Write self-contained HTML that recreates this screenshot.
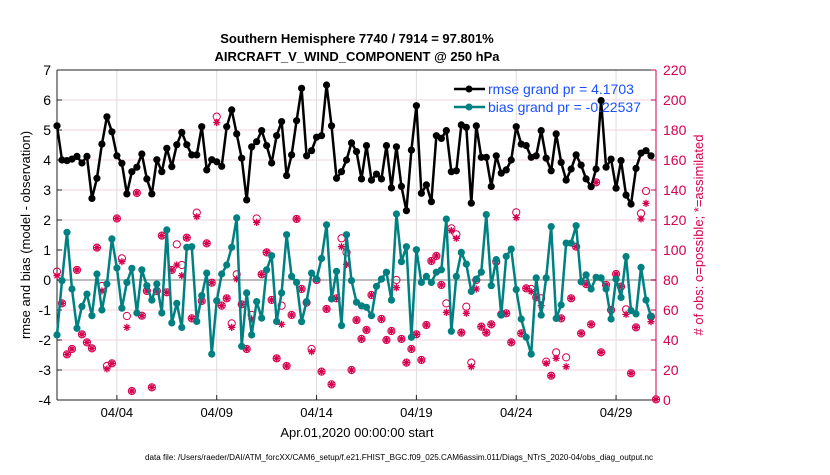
<!DOCTYPE html>
<html><head><meta charset="utf-8"><style>
body{margin:0;background:#fff;}
svg text{font-family:"Liberation Sans",sans-serif;}
</style></head><body>
<svg id="chart" width="830" height="470" viewBox="0 0 830 470" xmlns="http://www.w3.org/2000/svg">
<rect width="830" height="470" fill="#fff"/>
<text x="357" y="43" text-anchor="middle" font-size="13" font-weight="bold">Southern Hemisphere 7740 / 7914 = 97.801%</text>
<text x="357" y="61" text-anchor="middle" font-size="13" font-weight="bold">AIRCRAFT_V_WIND_COMPONENT @ 250 hPa</text>
<g id="grid"></g>
<g id="axes"></g>
<g id="marks"></g>
<g id="legend">
 <line x1="454" y1="89" x2="485" y2="89" stroke="#000" stroke-width="2.5"/>
 <circle cx="469" cy="89" r="3.5" fill="#000"/>
 <text x="488" y="94" font-size="14" fill="#1a4fff">rmse grand pr = 4.1703</text>
 <line x1="454" y1="107" x2="485" y2="107" stroke="#008080" stroke-width="2.5"/>
 <circle cx="469" cy="107" r="3.5" fill="#008080"/>
 <text x="488" y="112" font-size="14" fill="#1a4fff">bias grand pr = -0.22537</text>
</g>
<text x="357" y="437" text-anchor="middle" font-size="13">Apr.01,2020 00:00:00 start</text>
<text transform="translate(30,235) rotate(-90)" text-anchor="middle" font-size="13">rmse and bias (model - observation)</text>
<text transform="translate(703,235) rotate(-90)" text-anchor="middle" font-size="13" fill="#d6004f"># of obs: o=possible; *=assimilated</text>
<text x="145" y="460" font-size="8" textLength="508" lengthAdjust="spacingAndGlyphs">data file: /Users/raeder/DAI/ATM_forcXX/CAM6_setup/f.e21.FHIST_BGC.f09_025.CAM6assim.011/Diags_NTrS_2020-04/obs_diag_output.nc</text>
</svg>
<script>
const rmse=[5.14,4.0,3.98,4.03,4.12,3.9,4.12,2.72,3.39,4.53,5.44,4.94,4.14,3.89,2.87,3.61,3.76,4.2,3.37,2.87,4.01,3.61,4.39,3.78,4.51,4.92,4.51,4.17,4.17,5.11,3.67,4.01,3.94,3.79,5.11,5.67,4.87,4.06,2.67,4.44,4.61,4.98,4.48,3.9,4.81,5.28,3.48,4.17,5.31,6.39,4.14,4.31,4.76,4.81,6.5,5.14,3.39,3.61,4.0,4.57,4.28,3.37,4.48,3.33,3.53,3.37,4.48,3.07,4.44,3.12,2.31,4.33,5.81,2.89,3.17,2.61,4.81,4.72,4.98,3.61,3.64,5.17,5.09,2.56,5.14,4.09,4.09,3.12,4.14,3.56,3.67,4.0,5.11,4.53,4.48,4.09,4.14,4.98,4.06,3.64,4.87,3.92,3.33,3.7,4.17,3.83,3.37,3.11,3.7,5.98,3.76,4.03,3.06,3.98,2.83,2.53,3.72,4.23,4.31,4.14];
const bias=[-1.83,-0.02,1.59,-0.3,-1.61,-0.88,-0.47,-1.19,0.2,-1.0,-0.13,1.37,0.4,-0.94,-0.08,0.39,-1.1,0.34,-0.19,-0.67,-0.13,-1.1,1.67,-1.43,-0.78,-1.58,1.09,1.11,-1.38,-0.52,0.23,-2.47,-0.69,0.2,0.5,1.09,2.07,-2.21,-0.43,-1.83,-0.72,-1.27,0.34,0.81,-1.38,-0.43,1.51,0.12,-0.08,-1.39,-0.72,0.23,0.03,0.72,1.84,-0.63,0.29,-1.52,1.51,-0.02,-0.74,-0.86,-0.91,-1.19,-0.21,0.03,0.26,-0.67,2.2,0.61,1.11,-1.91,1.01,-0.08,0.12,-0.08,0.26,0.34,2.03,-1.71,0.12,0.92,0.53,-0.38,0.03,0.26,2.18,-0.19,0.68,-1.17,0.79,1.03,-0.32,-1.3,-1.91,-2.47,0.07,-1.17,0.07,1.78,-1.28,-0.83,1.23,1.23,1.81,-0.06,0.17,-0.3,0.09,0.07,-0.3,-1.3,0.03,-0.58,0.78,-1.02,-1.13,0.42,-0.67,-1.21];
const possible=[85.6,64.4,30.4,34,86.7,43.8,38.4,34.4,101.6,76,22.7,24.4,121,94.4,56,6,138,56.2,72.7,8.4,72.7,109.6,71.8,86.7,103.8,90,108.2,54.4,124.9,66,104.4,78.2,188.9,62.9,67.8,51.1,83.8,63.8,34,56.7,121,83.8,98.4,66.7,27.8,62.9,22.7,56.7,120.7,74,64.9,34,80,18.9,60.7,10.4,67.8,107.8,98.4,20,53.3,40.7,46.7,70,null,54,40,46,80,40.7,24.9,34,43.8,26.7,50,92.7,96,76.7,64.4,114.4,110.4,44.9,62.2,24.9,80,48.9,44.9,50.4,92.2,57.1,57.8,38.4,125.1,44.4,74.4,74,68.4,67.8,25.6,16.2,31.8,54.4,28.4,67.8,102.2,44.4,77.3,50.4,145.1,31.8,76.7,60,84,75.6,60.4,17.8,48.4,124.4,139.3,55.6,0.4];
const assimilated=[82.9,64.4,30.4,34,86.7,43.8,38.4,34.4,101.6,72.7,20.7,24.4,121,92.2,48.4,6,138,56.2,72.7,8.4,72.7,109.6,71.8,86.7,90,82.9,108.2,54.4,122.2,66,104.4,78.2,185,62.9,67.8,48.4,80.7,63.8,34,54,118.4,83.8,98.4,66.7,27.8,50.4,22.7,56.7,120.7,74,64.9,32.2,80,18.9,60.7,10.4,67.8,102.2,90.4,20,53.3,40.7,46.7,70,null,54,40,46,74.9,40.7,24.9,34,43.8,26.7,50,92.7,96,76.7,58.4,112.9,107.8,44.9,57.8,22.2,74,48.9,44.9,50.4,92.2,57.1,57.8,38.4,121.6,44.4,74.4,72.2,68.4,62.9,24.4,16.2,27.8,54.4,22.2,67.8,102.2,44.4,77.3,50.4,145.1,31.8,76.7,60,84,75.6,57.1,17.8,48.4,120.7,131.1,52.2,0.4];
const xTickDays=[3,8,13,18,23,28];
const xTickLabels=["04/04","04/09","04/14","04/19","04/24","04/29"];
const yTicksLeft=[-4,-3,-2,-1,0,1,2,3,4,5,6,7];
const yTicksRight=[0,20,40,60,80,100,120,140,160,180,200,220];

const L=57,R=656,T=70,B=400,NS="http://www.w3.org/2000/svg";
const X=d=>L+(d-0)/(30-0)*(R-L);
const Y=v=>B-(v+4)/11*(B-T);
const Y2=c=>B-c/220*(B-T);
const dayOf=i=>i*0.25;
function mk(parent,tag,attrs){const e=document.createElementNS(NS,tag);for(const k in attrs)e.setAttribute(k,attrs[k]);parent.appendChild(e);return e;}
const grid=document.getElementById('grid'),axes=document.getElementById('axes'),marks=document.getElementById('marks');
yTicksLeft.forEach(v=>{if(v===-4||v===7||v===0)return;const l=mk(grid,'line',{x1:L,x2:R,y1:Y(v),y2:Y(v),stroke:'#f5d0df','stroke-width':1});

});
xTickDays.forEach(d=>{const l=mk(grid,'line',{x1:X(d),x2:X(d),y1:T,y2:B,stroke:'#dcdcdc','stroke-width':1});

});
const z=mk(grid,'line',{x1:L,x2:R,y1:Y(0),y2:Y(0),stroke:'#bdbdbd','stroke-width':2});


mk(axes,'line',{x1:L,x2:R,y1:T,y2:T,stroke:'#222','stroke-width':1});
mk(axes,'line',{x1:L,x2:R,y1:B,y2:B,stroke:'#222','stroke-width':1});
mk(axes,'line',{x1:L,x2:L,y1:T,y2:B,stroke:'#222','stroke-width':1});
mk(axes,'line',{x1:R,x2:R,y1:T,y2:B,stroke:'#d6004f','stroke-width':1});
yTicksLeft.forEach(v=>{const t=mk(axes,'text',{x:L-6,y:Y(v)+5,'text-anchor':'end','font-size':14});t.textContent=v;


mk(axes,'line',{x1:L,x2:L+5,y1:Y(v),y2:Y(v),stroke:'#222'});});
yTicksRight.forEach(c=>{const t=mk(axes,'text',{x:R+7,y:Y2(c)+5,'font-size':14,fill:'#d6004f'});t.textContent=c;


mk(axes,'line',{x1:R-5,x2:R,y1:Y2(c),y2:Y2(c),stroke:'#d6004f'});});
xTickDays.forEach((d,i)=>{const t=mk(axes,'text',{x:X(d),y:B+17,'text-anchor':'middle','font-size':13});t.textContent=xTickLabels[i];


mk(axes,'line',{x1:X(d),x2:X(d),y1:B-5,y2:B,stroke:'#222'});});
const mag='#d6004f';
possible.forEach((c,i)=>{if(c==null)return;const e=mk(marks,'circle',{cx:X(dayOf(i)),cy:Y2(c),r:3.6,fill:'none',stroke:mag,'stroke-width':1});

});
assimilated.forEach((c,i)=>{if(c==null)return;const x=X(dayOf(i)),y=Y2(c),r=3.6;
const g=mk(marks,'path',{d:`M${x-r} ${y}H${x+r}M${x} ${y-r}V${y+r}M${x-r*0.7} ${y-r*0.7}L${x+r*0.7} ${y+r*0.7}M${x-r*0.7} ${y+r*0.7}L${x+r*0.7} ${y-r*0.7}`,stroke:mag,'stroke-width':1.3});

});
function series(arr,color,name){
 const p=mk(marks,'polyline',{points:arr.map((v,i)=>X(dayOf(i))+','+Y(v)).join(' '),fill:'none',stroke:color,'stroke-width':2.5,'stroke-linejoin':'round'});
 
 
 arr.forEach((v,i)=>{const c=mk(marks,'circle',{cx:X(dayOf(i)),cy:Y(v),r:3.6,fill:color});
 
 });
}
series(bias,'#008080','bias');
series(rmse,'#000','rmse');
</script>
</body></html>
